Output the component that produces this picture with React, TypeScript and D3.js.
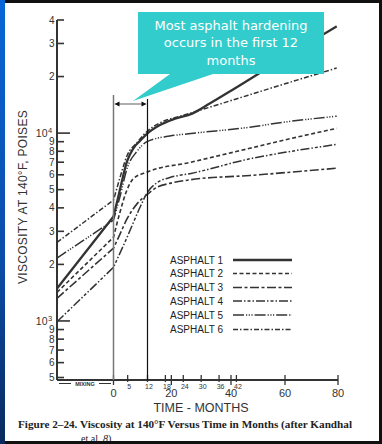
import React from "react";
import * as d3 from "d3";

// viscosity at 140F (poises) vs time (months); the mixing stage sits at -20
const asphalt1: [number, number][] = [[-20, 1490], [0, 3600], [2, 4800], [4.8, 7100], [7, 8300], [9.4, 9100], [11.8, 9900], [16, 11000], [21, 11900], [27, 12700], [33, 14400], [40, 16800], [60, 25300], [79.5, 37000]];
const asphalt2: [number, number][] = [[-20, 1420], [0, 2790], [2.3, 3800], [4.8, 5000], [6.9, 5700], [11.8, 6200], [26.6, 7000], [47, 8300], [60, 9200], [79.5, 10600]];
const asphalt3: [number, number][] = [[-20, 1320], [0, 2440], [2.3, 2900], [4.8, 3500], [8.3, 4200], [11.8, 4700], [15.2, 5150], [19.5, 5400], [26.6, 5650], [47, 5950], [79.5, 6500]];
const asphalt4: [number, number][] = [[-20, 990], [0, 1930], [4.8, 2790], [9.4, 4040], [11.8, 4790], [15.2, 5450], [19.5, 5800], [26.6, 6100], [47, 7300], [60, 7900], [79.5, 8700]];
const asphalt5: [number, number][] = [[-20, 2160], [0, 3440], [2.3, 4600], [4.8, 6500], [8.3, 8000], [11.8, 9000], [19.5, 9650], [26.6, 9950], [47, 10750], [60, 11450], [79.5, 12300]];
const asphalt6: [number, number][] = [[-20, 2620], [0, 4400], [2.3, 5800], [4.8, 7600], [8.3, 8900], [11.8, 10200], [17, 11500], [23, 12300], [30, 13300], [40, 14900], [60, 18300], [79.5, 22200]];

const seriesNames = ["ASPHALT 1", "ASPHALT 2", "ASPHALT 3", "ASPHALT 4", "ASPHALT 5", "ASPHALT 6"];

const yTickValues = [500, 600, 700, 800, 900, 1000, 2000, 3000, 4000, 5000, 6000, 7000, 8000, 9000, 10000, 20000, 30000, 40000];
const xTickValues = [0, 5, 12, 18, 20, 24, 30, 36, 40, 42, 60, 80];
const xBigLabels = [0, 20, 40, 60, 80];
const xSmallLabels = [5, 12, 18, 24, 30, 36, 42];

const calloutLines = ["Most asphalt hardening", "occurs in the first 12", "months"];

const ink = "#333";

const App = () => {
  // x axis in the scan is not quite linear, so use a piecewise scale
  const x = d3.scaleLinear().domain([-20, 0, 12, 40, 60, 80]).range([57, 113.5, 147.5, 231, 285, 338]);
  const y = d3.scaleLog().domain([500, 40000]).range([377.5, 20]);
  const axisY = 380;

  // mixing stage is a straight segment, the aging part is a smooth curve
  const mixLine = d3
    .line<[number, number]>()
    .x((d) => x(d[0]))
    .y((d) => y(d[1]));
  const ageLine = d3
    .line<[number, number]>()
    .x((d) => x(d[0]))
    .y((d) => y(d[1]))
    .curve(d3.curveMonotoneX);

  const series = [
    { name: seriesNames[0], data: asphalt1, dash: "", width: 2.3 },
    { name: seriesNames[1], data: asphalt2, dash: "4,2.5", width: 1.6 },
    { name: seriesNames[2], data: asphalt3, dash: "9,2.5,3,2.5", width: 1.6 },
    { name: seriesNames[3], data: asphalt4, dash: "9,2,1.5,2,3,2,1.5,2", width: 1.5 },
    { name: seriesNames[4], data: asphalt5, dash: "11,2,1.2,1.5,1.2,1.5,1.2,2", width: 1.5 },
    { name: seriesNames[5], data: asphalt6, dash: "5,2,1.5,2", width: 1.5 },
  ];

  const legendY = [260, 273.5, 287.5, 301, 315, 329.5];

  const curvePath = (data: [number, number][]) => {
    const mix = data.filter((d) => d[0] <= 0);
    const age = data.filter((d) => d[0] >= 0);
    return (mixLine(mix) || "") + (ageLine(age) || "").replace(/^M/, "L");
  };

  return (
    <svg width={382} height={444} style={{ position: "absolute", left: 0, top: 0 }}>
      <defs>
        <linearGradient id="side" x1="0" y1="0" x2="0" y2="1">
          <stop offset="0%" stopColor="#0a66d6" />
          <stop offset="60%" stopColor="#0a4ca8" />
          <stop offset="100%" stopColor="#0a2a5e" />
        </linearGradient>
      </defs>
      <rect x={0} y={0} width={382} height={444} fill="#fff" />

      {/* y axis */}
      <line x1={57} x2={57} y1={20} y2={axisY} stroke={ink} strokeWidth={2} />
      {yTickValues.map((v) => {
        const exp = Math.floor(Math.log10(v) + 1e-9);
        const digit = Math.round(v / Math.pow(10, exp));
        const decade = digit === 1;
        const yy = y(v);
        return (
          <g key={v}>
            <line x1={57} x2={decade ? 70 : 64} y1={yy} y2={yy} stroke={ink} strokeWidth={1.6} />
            {decade ? (
              <text x={47.5} y={yy} dy="0.38em" textAnchor="end" fontSize={10.5} fill={ink} fontFamily="Liberation Sans, Arial, sans-serif">
                10
                <tspan x={48} dy="-0.5em" fontSize={7.5} textAnchor="start">{exp}</tspan>
              </text>
            ) : (
              <text x={54.5} y={yy} dy="0.36em" textAnchor="end" fontSize={10} fill={ink} fontFamily="Liberation Sans, Arial, sans-serif">
                {digit}
              </text>
            )}
          </g>
        );
      })}
      <text
        transform="translate(27,197) rotate(-90)"
        textAnchor="middle"
        fontSize={12}
        fill={ink}
        fontFamily="Liberation Sans, Arial, sans-serif"
        letterSpacing={0.3}
      >
        VISCOSITY AT 140°F, POISES
      </text>

      {/* x axis */}
      <line x1={57} x2={x(80)} y1={axisY} y2={axisY} stroke={ink} strokeWidth={1.8} />
      {xTickValues.map((m) => (
        <line key={m} x1={x(m)} x2={x(m)} y1={axisY - 5} y2={axisY + (xBigLabels.includes(m) ? 5 : 2)} stroke={ink} strokeWidth={1.3} />
      ))}
      {xBigLabels.map((m) => (
        <text key={m} x={x(m)} y={397} textAnchor="middle" fontSize={11} fill={ink} fontFamily="Liberation Sans, Arial, sans-serif">
          {m}
        </text>
      ))}
      {xSmallLabels.map((m) => (
        <text key={m} x={x(m) + 1.5} y={389} textAnchor="middle" fontSize={7} fill={ink} fontFamily="Liberation Sans, Arial, sans-serif">
          {m}
        </text>
      ))}
      <line x1={59} x2={71} y1={383.5} y2={383.5} stroke={ink} strokeWidth={1} />
      <line x1={99} x2={111} y1={383.5} y2={383.5} stroke={ink} strokeWidth={1} />
      <text x={85} y={385.5} textAnchor="middle" fontSize={5.5} fontWeight="bold" fill={ink} fontFamily="Liberation Sans, Arial, sans-serif">
        MIXING
      </text>
      <text x={201} y={412} textAnchor="middle" fontSize={12.5} fill={ink} fontFamily="Liberation Sans, Arial, sans-serif">
        TIME - MONTHS
      </text>

      {/* curves */}
      {series.map((s) => (
        <path key={s.name} d={curvePath(s.data)} fill="none" stroke={ink} strokeWidth={s.width} strokeDasharray={s.dash || undefined} strokeLinejoin="round" />
      ))}

      {/* legend */}
      {series.map((s, i) => (
        <g key={s.name}>
          <text x={170} y={legendY[i]} dy="0.36em" fontSize={10} fill="#222" fontFamily="Liberation Sans, Arial, sans-serif">
            {s.name}
          </text>
          <line x1={233} x2={292} y1={legendY[i]} y2={legendY[i]} stroke={ink} strokeWidth={s.width} strokeDasharray={s.dash || undefined} />
        </g>
      ))}

      {/* 0 and 12 month markers */}
      <line x1={x(0)} x2={x(0)} y1={95} y2={axisY} stroke="#777" strokeWidth={1.5} />
      <line x1={x(12)} x2={x(12)} y1={99} y2={axisY} stroke="#111" strokeWidth={1.2} />
      <line x1={x(0) + 2} x2={x(12) - 2} y1={104} y2={104} stroke="#777" strokeWidth={1.2} />
      <polygon points={`${x(0) + 1},104 ${x(0) + 6},101.5 ${x(0) + 6},106.5`} fill="#111" />
      <polygon points={`${x(12) - 1},104 ${x(12) - 6},101.5 ${x(12) - 6},106.5`} fill="#111" />

      {/* callout */}
      <path d="M138,12 H324 V74 H213 L133,101 L170,74 H138 Z" fill="#33cccc" />
      {calloutLines.map((t, i) => (
        <text key={t} x={231} y={29.5 + i * 17.5} textAnchor="middle" fontSize={13} fill="#fff" fontFamily="DejaVu Sans, Verdana, sans-serif">
          {t}
        </text>
      ))}

      {/* caption */}
      <text x={18} y={428} fontSize={11} fontWeight="bold" fill="#222" fontFamily="Liberation Serif, Times New Roman, serif" textLength={334} lengthAdjust="spacingAndGlyphs">
        Figure 2–24. Viscosity at 140°F Versus Time in Months (after Kandhal
      </text>
      <text x={81} y={441.5} fontSize={10} fill="#222" fontFamily="Liberation Serif, Times New Roman, serif">
        et al. <tspan fontStyle="italic">8</tspan>)
      </text>

      {/* slide frame */}
      <rect x={0} y={0} width={5} height={444} fill="url(#side)" />
      <rect x={5} y={0} width={377} height={3} fill="#111" />
      <rect x={379} y={0} width={3} height={444} fill="#111" />
      <rect x={5} y={441} width={377} height={3} fill="#111" />
    </svg>
  );
};

export default App;
